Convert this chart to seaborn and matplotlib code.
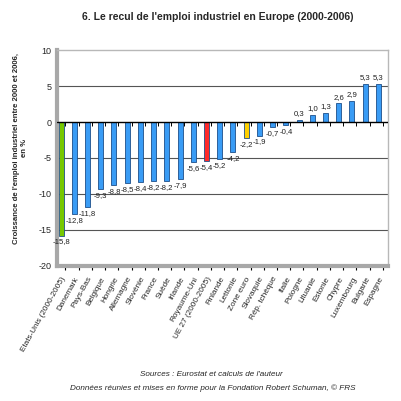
import numpy as np
import pandas as pd
import seaborn as sns
import matplotlib
matplotlib.use("Agg")
import matplotlib.pyplot as plt

sns.set_style("white")
plt.rcParams['font.family'] = ['Liberation Sans', 'DejaVu Sans']

pays = ["Etats-Unis (2000-2005)", "Danemark", "Pays-Bas", "Belgique", "Hongrie",
        "Allemagne", "Slovénie", "France", "Suède", "Irlande", "Royaume-Uni",
        "UE 27 (2000-2005)", "Finlande", "Lettonie", "Zone euro", "Slovaquie",
        "Rép. tchèque", "Italie", "Pologne", "Lituanie", "Estonie", "Chypre",
        "Luxembourg", "Bulgarie", "Espagne"]
croissance = [-15.8, -12.8, -11.8, -9.3, -8.8, -8.5, -8.4, -8.2, -8.2, -7.9, -5.6,
              -5.4, -5.2, -4.2, -2.2, -1.9, -0.7, -0.4, 0.3, 1.0, 1.3, 2.6, 2.9,
              5.3, 5.3]
special = {"Etats-Unis (2000-2005)": "#77c800",
           "UE 27 (2000-2005)": "#ff2a2a",
           "Zone euro": "#ffd000"}
bleu = "#3a9cf5"

df = pd.DataFrame({"pays": pays, "val": croissance})
pal = {p: special.get(p, bleu) for p in pays}

fig = plt.figure(figsize=(4.02, 4.01), dpi=100)
ax = fig.add_axes([0.142, 0.337, 0.823, 0.538])

sns.barplot(data=df, x="pays", y="val", hue="pays", palette=pal, legend=False,
            width=0.38, saturation=1, edgecolor="#1d4f8a", linewidth=0.6, ax=ax)

# grid lines
for yv in [5, -5, -10, -15]:
    ax.axhline(yv, color="#555555", lw=0.8, zorder=0)
ax.axhline(0, color="black", lw=1.0, zorder=3)
n = len(pays)
ax.vlines(np.arange(n) + 0.33, -0.55, 0, color="black", lw=0.7, zorder=3)

# value labels
fmt = lambda v: f"{v:.1f}".replace(".", ",")
for cont in ax.containers:
    ax.bar_label(cont, fmt=fmt, fontsize=5.6, padding=2, color="#222222")

ax.set_ylim(-20, 10)
ax.set_xlim(-0.3, n - 0.28)
ax.set_yticks([-20, -15, -10, -5, 0, 5, 10])
ax.set_yticklabels(["-20", "-15", "-10", "-5", "0", "5", "10"], fontsize=6.5)
ax.tick_params(axis="y", length=3, width=0.8, color="black", pad=1)

ax.set_xticks(np.arange(n))
ax.set_xticklabels(pays, rotation=61, ha="right", rotation_mode="anchor", fontsize=5.9)
ax.set_xticks(np.arange(n) + 0.33, minor=True)
ax.tick_params(axis="x", which="major", length=0, pad=7)
ax.tick_params(axis="x", which="minor", length=3, width=0.8, color="black", bottom=True)
ax.set_xlabel("")
ax.set_ylabel("Croissance de l'emploi industriel entre 2000 et 2006,\nen %",
              fontsize=5.6, fontweight="bold")
ax.yaxis.set_label_coords(-0.088, 0.546)

for s in ["left", "bottom"]:
    ax.spines[s].set_color("#a8a8a8")
    ax.spines[s].set_linewidth(3)
for s in ["top", "right"]:
    ax.spines[s].set_color("#b8b8b8")
    ax.spines[s].set_linewidth(1)

fig.text(0.542, 0.958, "6. Le recul de l'emploi industriel en Europe (2000-2006)",
         ha="center", va="center", fontsize=7.5, fontweight="bold")
fig.text(0.526, 0.065, "Sources : Eurostat et calculs de l'auteur",
         ha="center", va="center", fontsize=5.9, style="italic")
fig.text(0.529, 0.032, "Données réunies et mises en forme pour la Fondation Robert Schuman, © FRS",
         ha="center", va="center", fontsize=5.9, style="italic")

fig.savefig("out.png", dpi=100)
